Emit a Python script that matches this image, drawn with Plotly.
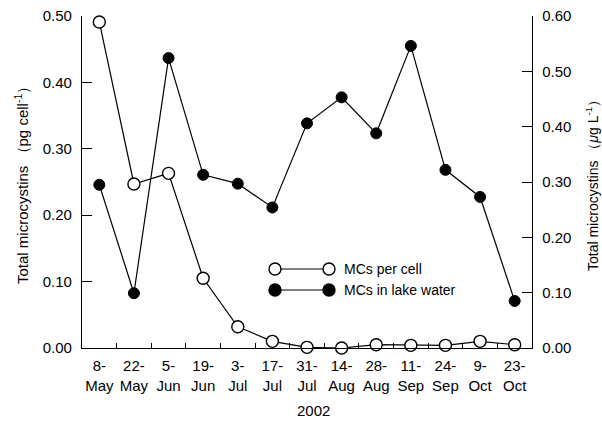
import plotly.graph_objects as go

# Sampling dates (2002) and total microcystin measurements
dates = ["8-<br>May", "22-<br>May", "5-<br>Jun", "19-<br>Jun", "3-<br>Jul", "17-<br>Jul",
         "31-<br>Jul", "14-<br>Aug", "28-<br>Aug", "11-<br>Sep", "24-<br>Sep", "9-<br>Oct", "23-<br>Oct"]
mcs_per_cell = [0.491, 0.247, 0.263, 0.105, 0.032, 0.010, 0.001, 0.000, 0.005, 0.004, 0.004, 0.010, 0.005]
mcs_lake_water = [0.295, 0.099, 0.524, 0.313, 0.297, 0.254, 0.406, 0.453, 0.388, 0.546, 0.322, 0.273, 0.085]

left_ticks = [0.0, 0.1, 0.2, 0.3, 0.4, 0.5]
right_ticks = [0.0, 0.1, 0.2, 0.3, 0.4, 0.5, 0.6]

FONT = "Liberation Sans, Arial, sans-serif"
L, R, T, B = 82, 70, 16, 84
W, H = 602, 432
PW, PH = W - L - R, H - T - B

fig = go.Figure()
fig.add_trace(go.Scatter(
    x=dates, y=mcs_lake_water, yaxis="y2", mode="lines+markers", name="MCs in lake water",
    line=dict(color="black", width=1.2),
    marker=dict(symbol="circle", size=11, color="black", line=dict(color="black", width=1)),
    cliponaxis=False, showlegend=False))
fig.add_trace(go.Scatter(
    x=dates, y=mcs_per_cell, mode="lines+markers", name="MCs per cell",
    line=dict(color="black", width=1.2),
    marker=dict(symbol="circle", size=12, color="white", line=dict(color="black", width=1.4)),
    cliponaxis=False, showlegend=False))


def px_x(px):
    return (px - L) / PW


def px_y(py):
    return (H - B - py) / PH


# Hand-drawn legend: line with a marker at each end, plus label text
shapes = []
annotations = []
for label, fill, ypix in [("MCs per cell", "white", 269), ("MCs in lake water", "black", 290)]:
    shapes.append(dict(type="line", xref="paper", yref="paper",
                       x0=px_x(275), x1=px_x(329), y0=px_y(ypix), y1=px_y(ypix),
                       line=dict(color="black", width=1.2)))
    for cx in (275, 329):
        shapes.append(dict(type="circle", xref="paper", yref="paper",
                           xsizemode="pixel", ysizemode="pixel",
                           xanchor=px_x(cx), yanchor=px_y(ypix),
                           x0=-6, x1=6, y0=-6, y1=6,
                           fillcolor=fill, line=dict(color="black", width=1.4)))
    annotations.append(dict(text=label, xref="paper", yref="paper",
                            x=px_x(342), y=px_y(ypix), xanchor="left", yanchor="middle",
                            showarrow=False, font=dict(family=FONT, size=14, color="black")))

# Axis titles
annotations.append(dict(text="Total microcystins （pg cell<sup>-1</sup>）", xref="paper", yref="paper",
                        x=px_x(21), y=0.5, textangle=-90, xanchor="center", yanchor="middle",
                        showarrow=False, font=dict(family=FONT, size=15, color="black")))
annotations.append(dict(text="Total microcystins （<i>μ</i>g L<sup>-1</sup>）", xref="paper", yref="paper",
                        x=px_x(592), y=0.5, textangle=-90, xanchor="center", yanchor="middle",
                        showarrow=False, font=dict(family=FONT, size=14, color="black")))
annotations.append(dict(text="2002", xref="paper", yref="paper",
                        x=px_x(313), y=px_y(410), xanchor="center", yanchor="middle",
                        showarrow=False, font=dict(family=FONT, size=15, color="black")))

fig.update_layout(
    width=W, height=H,
    margin=dict(l=L, r=R, t=T, b=B, autoexpand=False),
    paper_bgcolor="white", plot_bgcolor="white",
    font=dict(family=FONT, size=15, color="black"),
    shapes=shapes, annotations=annotations,
    xaxis=dict(type="category", range=[-0.5, 12.5], showline=True, linecolor="black", linewidth=1.3,
               ticks="inside", ticklen=5, tickwidth=1, tickcolor="black", tickson="boundaries",
               tickangle=0, showgrid=False, zeroline=False, tickfont=dict(size=15),
               ticklabelstandoff=4, automargin=False),
    yaxis=dict(range=[0, 0.5], tickvals=left_ticks, tickformat=".2f", showline=True,
               linecolor="black", linewidth=1.3, ticks="inside", ticklen=10, tickwidth=1,
               tickcolor="black", showgrid=False, zeroline=False, ticklabelstandoff=6,
               automargin=False),
    yaxis2=dict(range=[0, 0.6], tickvals=right_ticks, tickformat=".2f", overlaying="y", side="right",
                showline=True, linecolor="black", linewidth=1.3, ticks="inside", ticklen=10,
                tickwidth=1, tickcolor="black", showgrid=False, zeroline=False,
                ticklabelstandoff=6, automargin=False),
)

fig.write_html("out.html")
